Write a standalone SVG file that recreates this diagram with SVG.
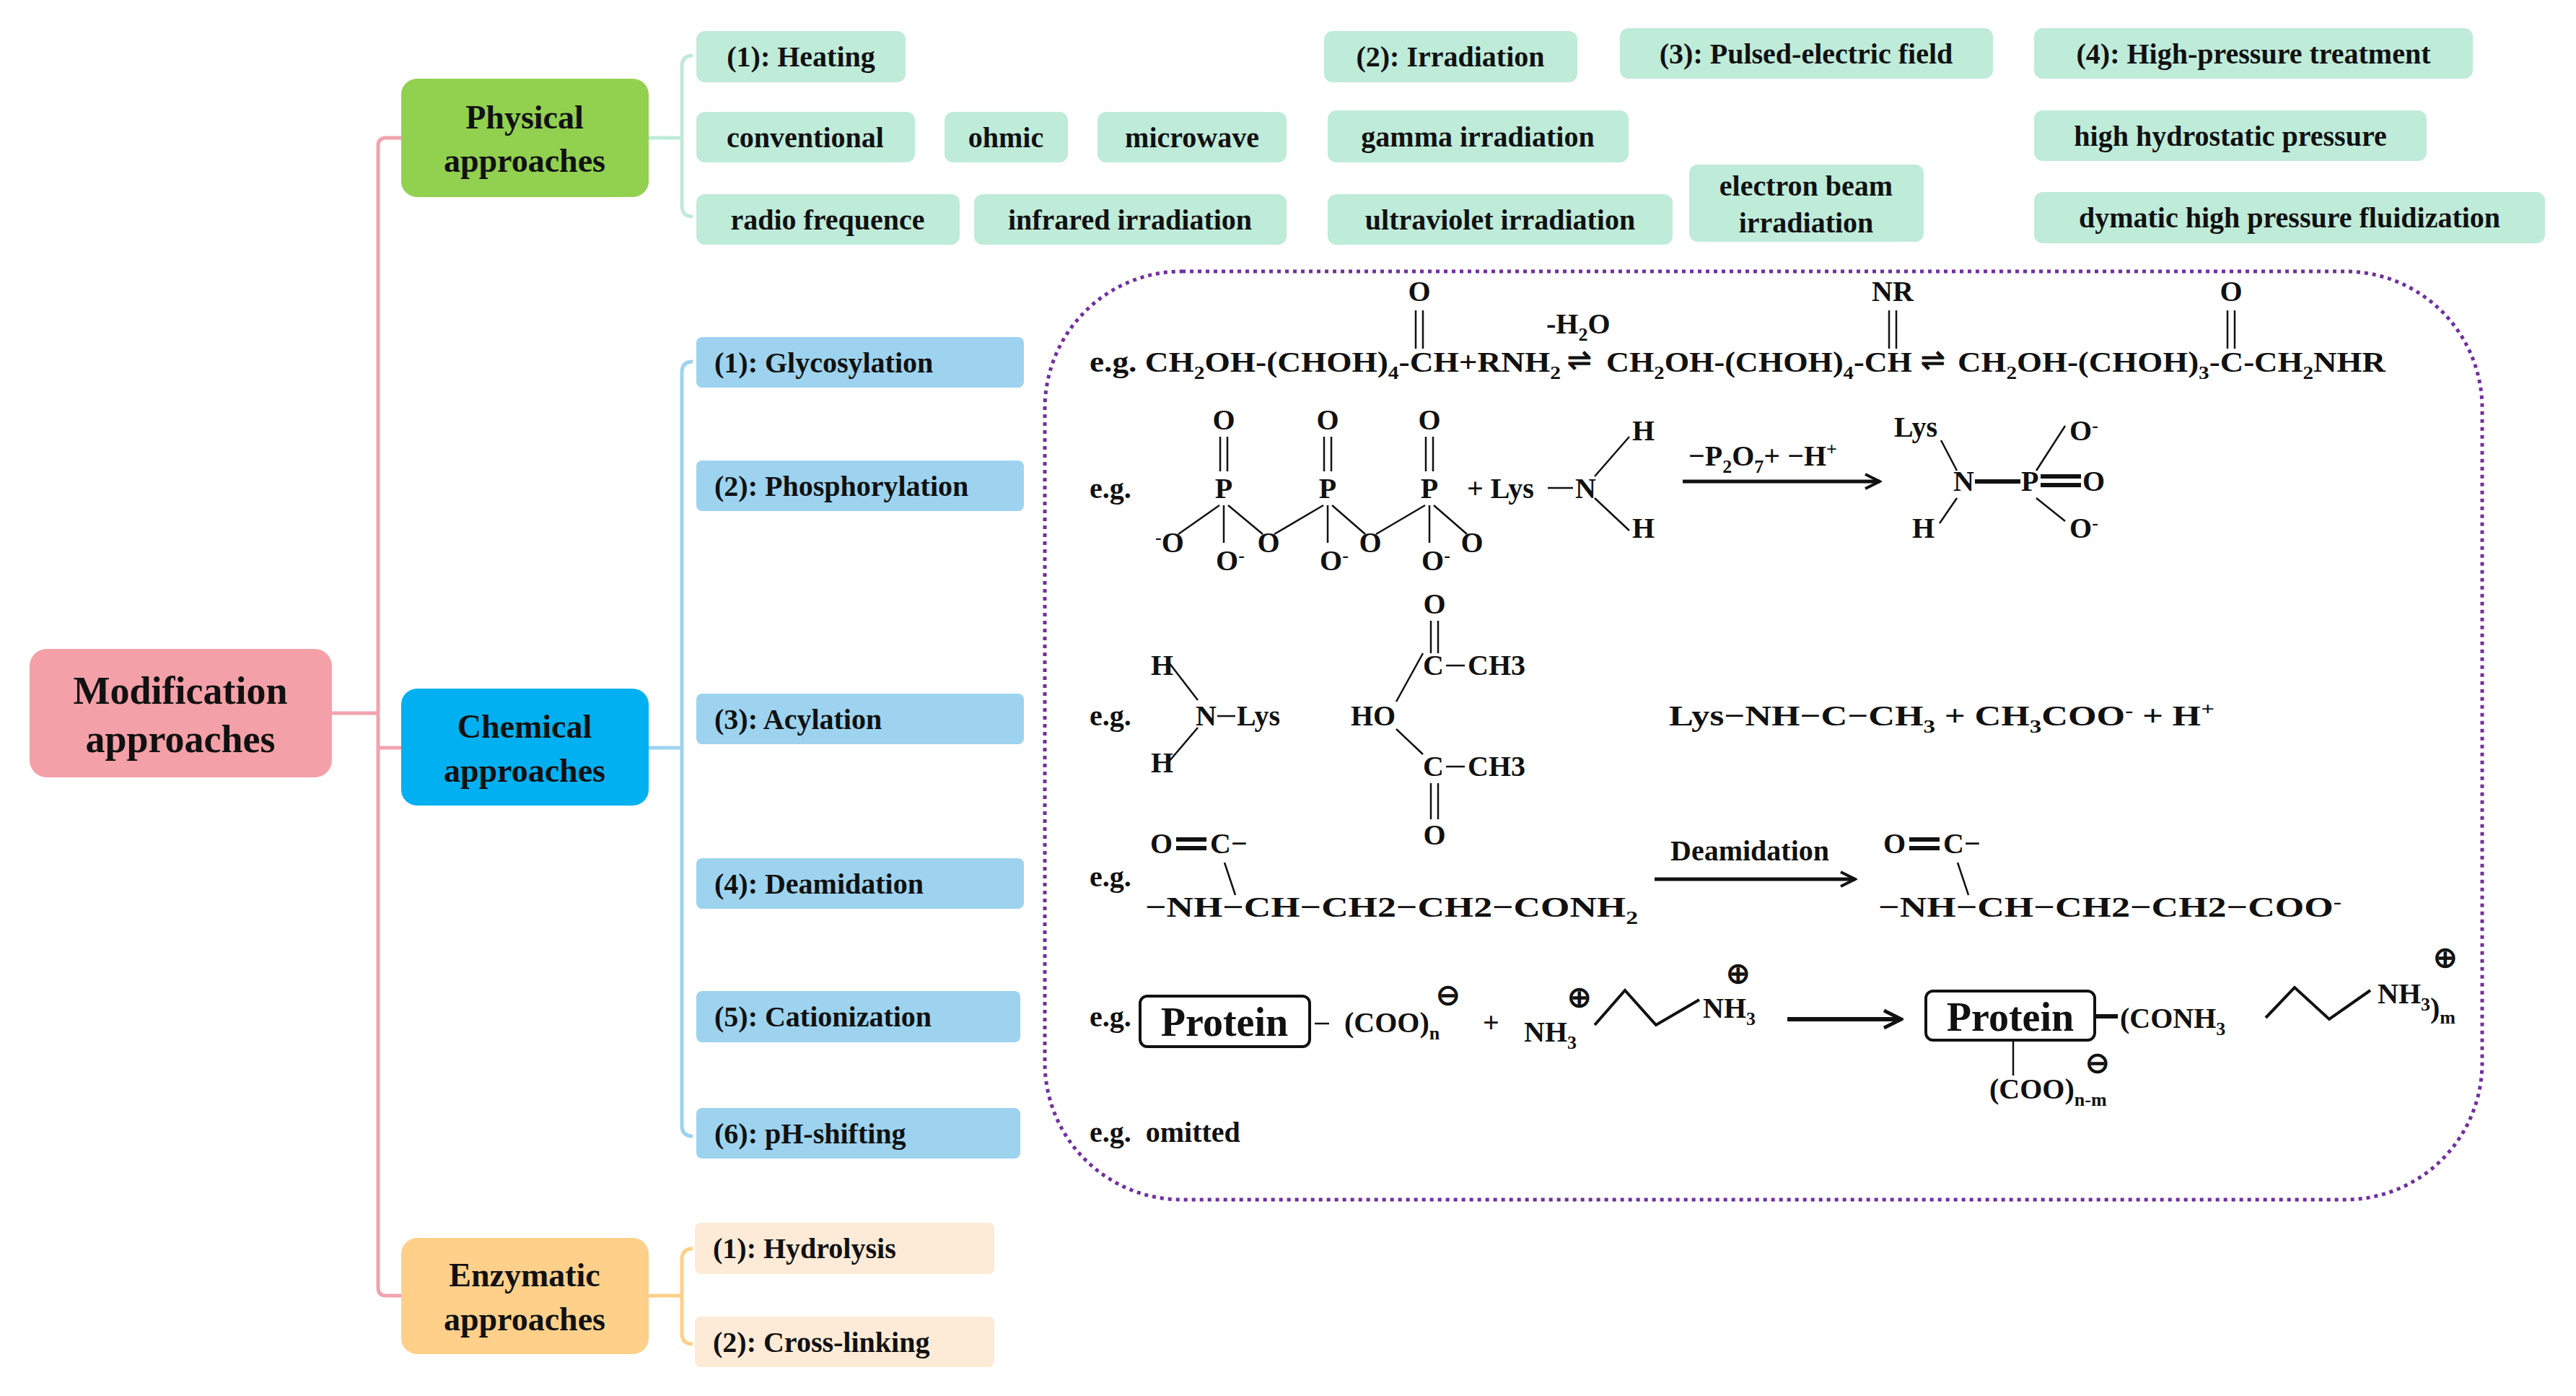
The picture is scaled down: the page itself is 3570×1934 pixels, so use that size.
<svg xmlns="http://www.w3.org/2000/svg" width="3570" height="1934" viewBox="0 0 3570 1934">
<style>
text{font-family:"Liberation Serif","Times New Roman",serif;font-weight:bold;fill:#111}
.c{text-anchor:middle}
.it{font-size:40px}
.mn{font-size:46px;text-anchor:middle}
.ch{font-size:40px}
.sb{font-size:26px}
.b{stroke:#111;stroke-width:4;fill:none}
.bt{stroke:#111;stroke-width:2.5;fill:none}
.phy{fill:#BFEBD9}
.chm{fill:#9DD3EE}
.enz{fill:#FDEBD7}
</style>
<defs>
<marker id="ah" viewBox="0 0 10 10" refX="9" refY="5" markerWidth="5" markerHeight="5" orient="auto" markerUnits="strokeWidth"><path d="M1,1 L9,5 L1,9" fill="none" stroke="#111" stroke-width="1.6"/></marker>
</defs>
<rect width="3570" height="1934" fill="#fff"/>
<g id="connectors" fill="none" stroke-width="5">
<path d="M460,988 H524 M556,191 H535 Q524,191 524,202 V1784 Q524,1795 535,1795 H556 M524,1036 H556" stroke="#F0A3AE"/>
<path d="M899,191 H945 M960,77 Q945,77 945,92 V285 Q945,300 960,300" stroke="#BFEBD9"/>
<path d="M899,1036 H945 M960,501 Q945,501 945,516 V1559 Q945,1574 960,1574" stroke="#9DD3EE"/>
<path d="M899,1795 H945 M960,1730 Q945,1730 945,1745 V1847 Q945,1862 960,1862" stroke="#FFD08A"/>
</g>
<g id="modification"><rect x="41" y="899" width="419" height="178" rx="24" fill="#F4A0A8"/><text class="c" font-size="54" x="250" y="975">Modification</text><text class="c" font-size="54" x="250" y="1042">approaches</text></g>
<g id="physical"><rect x="556" y="109" width="343" height="164" rx="22" fill="#92D050"/><text class="mn" x="727" y="178">Physical</text><text class="mn" x="727" y="238">approaches</text></g>
<g id="chemical"><rect x="556" y="954" width="343" height="162" rx="22" fill="#00B0F0"/><text class="mn" x="727" y="1022">Chemical</text><text class="mn" x="727" y="1083">approaches</text></g>
<g id="enzymatic"><rect x="556" y="1715" width="343" height="161" rx="22" fill="#FFD08A"/><text class="mn" x="727" y="1782">Enzymatic</text><text class="mn" x="727" y="1843">approaches</text></g>
<g id="p-heating"><rect class="phy" x="965" y="43" width="290" height="71" rx="12"/><text class="it c" x="1110" y="92">(1): Heating</text></g>
<g id="p-conventional"><rect class="phy" x="965" y="155" width="303" height="70" rx="12"/><text class="it c" x="1116" y="204">conventional</text></g>
<g id="p-ohmic"><rect class="phy" x="1309" y="155" width="171" height="70" rx="12"/><text class="it c" x="1394" y="204">ohmic</text></g>
<g id="p-microwave"><rect class="phy" x="1521" y="155" width="262" height="70" rx="12"/><text class="it c" x="1652" y="204">microwave</text></g>
<g id="p-radio"><rect class="phy" x="965" y="269" width="365" height="70" rx="12"/><text class="it c" x="1147" y="318">radio frequence</text></g>
<g id="p-infrared"><rect class="phy" x="1350" y="269" width="433" height="70" rx="12"/><text class="it c" x="1566" y="318">infrared irradiation</text></g>
<g id="p-irradiation"><rect class="phy" x="1835" y="43" width="351" height="71" rx="12"/><text class="it c" x="2010" y="92">(2): Irradiation</text></g>
<g id="p-gamma"><rect class="phy" x="1840" y="153" width="417" height="72" rx="12"/><text class="it c" x="2048" y="203">gamma irradiation</text></g>
<g id="p-ultraviolet"><rect class="phy" x="1840" y="269" width="478" height="70" rx="12"/><text class="it c" x="2079" y="318">ultraviolet irradiation</text></g>
<g id="p-electron"><rect class="phy" x="2341" y="228" width="325" height="107" rx="12"/><text class="it c" x="2503" y="271">electron beam</text><text class="it c" x="2503" y="322">irradiation</text></g>
<g id="p-pulsed"><rect class="phy" x="2245" y="39" width="517" height="70" rx="12"/><text class="it c" x="2503" y="88">(3): Pulsed-electric field</text></g>
<g id="p-highpressure"><rect class="phy" x="2819" y="39" width="608" height="70" rx="12"/><text class="it c" x="3123" y="88">(4): High-pressure treatment</text></g>
<g id="p-hydrostatic"><rect class="phy" x="2819" y="153" width="544" height="70" rx="12"/><text class="it c" x="3091" y="202">high hydrostatic pressure</text></g>
<g id="p-dymatic"><rect class="phy" x="2819" y="266" width="708" height="71" rx="12"/><text class="it c" x="3173" y="315">dymatic high pressure fluidization</text></g>
<g id="c-glyco"><rect class="chm" x="965" y="467" width="454" height="70" rx="8"/><text class="it" x="990" y="516">(1): Glycosylation</text></g>
<g id="c-phos"><rect class="chm" x="965" y="638" width="454" height="70" rx="8"/><text class="it" x="990" y="687">(2): Phosphorylation</text></g>
<g id="c-acyl"><rect class="chm" x="965" y="961" width="454" height="70" rx="8"/><text class="it" x="990" y="1010">(3): Acylation</text></g>
<g id="c-deam"><rect class="chm" x="965" y="1189" width="454" height="70" rx="8"/><text class="it" x="990" y="1238">(4): Deamidation</text></g>
<g id="c-cation"><rect class="chm" x="965" y="1373" width="449" height="71" rx="8"/><text class="it" x="990" y="1422">(5): Cationization</text></g>
<g id="c-ph"><rect class="chm" x="965" y="1535" width="449" height="70" rx="8"/><text class="it" x="990" y="1584">(6): pH-shifting</text></g>
<g id="e-hydro"><rect class="enz" x="963" y="1694" width="415" height="71" rx="8"/><text class="it" x="988" y="1743">(1): Hydrolysis</text></g>
<g id="e-cross"><rect class="enz" x="963" y="1824" width="415" height="70" rx="8"/><text class="it" x="988" y="1873">(2): Cross-linking</text></g>
<g id="reactions">
<rect x="1448" y="376" width="1992" height="1286" rx="190" fill="none" stroke="#7030A0" stroke-width="5" stroke-dasharray="5,6"/>
<text class="ch" x="1510" y="515" textLength="653" lengthAdjust="spacingAndGlyphs">e.g. CH<tspan class="sb" dy="10">2</tspan><tspan dy="-10">OH-(CHOH)</tspan><tspan class="sb" dy="10">4</tspan><tspan dy="-10">-CH+RNH</tspan><tspan class="sb" dy="10">2</tspan></text>
<text class="ch" x="2172" y="512">⇌</text>
<text class="ch" x="2226" y="515" textLength="424" lengthAdjust="spacingAndGlyphs">CH<tspan class="sb" dy="10">2</tspan><tspan dy="-10">OH-(CHOH)</tspan><tspan class="sb" dy="10">4</tspan><tspan dy="-10">-CH</tspan></text>
<text class="ch" x="2662" y="512">⇌</text>
<text class="ch" x="2713" y="515" textLength="593" lengthAdjust="spacingAndGlyphs">CH<tspan class="sb" dy="10">2</tspan><tspan dy="-10">OH-(CHOH)</tspan><tspan class="sb" dy="10">3</tspan><tspan dy="-10">-C-CH</tspan><tspan class="sb" dy="10">2</tspan><tspan dy="-10">NHR</tspan></text>
<text class="ch c" x="1967" y="417">O</text><path class="bt" d="M1962,430 V483 M1972,430 V483"/>
<text class="ch c" x="2623" y="417">NR</text><path class="bt" d="M2618,430 V483 M2628,430 V483"/>
<text class="ch c" x="3092" y="417">O</text><path class="bt" d="M3087,430 V483 M3097,430 V483"/>
<text class="ch" x="2143" y="462">-H<tspan class="sb" dy="10">2</tspan><tspan dy="-10">O</tspan></text>
<text class="ch" x="1510" y="690">e.g.</text>
<text class="ch c" x="1696" y="690">P</text><text class="ch c" x="1840" y="690">P</text><text class="ch c" x="1981" y="690">P</text>
<text class="ch c" x="1696" y="595">O</text><text class="ch c" x="1840" y="595">O</text><text class="ch c" x="1981" y="595">O</text>
<path class="bt" d="M1691,605 V653 M1701,605 V653 M1835,605 V653 M1845,605 V653 M1976,605 V653 M1986,605 V653"/>
<path class="bt" d="M1696,700 V752 M1840,700 V752 M1981,700 V752 M1690,700 L1633,740 M1702,700 L1750,740 M1834,700 L1766,740 M1846,700 L1892,740 M1975,700 L1907,740 M1987,700 L2033,740"/>
<text class="ch c" x="1621" y="765"><tspan class="sb" dy="-12">-</tspan><tspan dy="12">O</tspan></text>
<text class="ch c" x="1758" y="765">O</text><text class="ch c" x="1899" y="765">O</text><text class="ch c" x="2040" y="765">O</text>
<text class="ch" x="1685" y="790">O<tspan class="sb" dy="-12">-</tspan></text>
<text class="ch" x="1829" y="790">O<tspan class="sb" dy="-12">-</tspan></text>
<text class="ch" x="1970" y="790">O<tspan class="sb" dy="-12">-</tspan></text>
<text class="ch" x="2033" y="690">+ Lys</text><path class="bt" d="M2145,676 H2180"/><text class="ch" x="2183" y="690">N</text>
<text class="ch" x="2262" y="610">H</text><text class="ch" x="2262" y="745">H</text>
<path class="bt" d="M2210,660 L2258,605 M2210,690 L2258,735"/>
<path d="M2332,667 H2605" stroke="#111" stroke-width="5" marker-end="url(#ah)"/>
<text class="ch" x="2340" y="645">−P<tspan class="sb" dy="10">2</tspan><tspan dy="-10">O</tspan><tspan class="sb" dy="10">7</tspan><tspan dy="-10">+ −H</tspan><tspan class="sb" dy="-14">+</tspan></text>
<text class="ch" x="2625" y="605">Lys</text><text class="ch" x="2707" y="680">N</text><text class="ch" x="2650" y="745">H</text>
<text class="ch" x="2801" y="680">P</text>
<text class="ch" x="2868" y="610">O<tspan class="sb" dy="-12">-</tspan></text><text class="ch" x="2868" y="745">O<tspan class="sb" dy="-12">-</tspan></text>
<text class="ch" x="2886" y="680">O</text>
<path class="bt" d="M2690,610 L2712,652 M2712,690 L2688,725 M2822,652 L2862,590 M2822,690 L2862,722"/>
<path d="M2737,667 H2800 M2828,660 H2884 M2828,672 H2884" stroke="#111" stroke-width="6"/>
<text class="ch" x="1510" y="1005">e.g.</text>
<text class="ch" x="1595" y="935">H</text><text class="ch" x="1595" y="1070">H</text>
<text class="ch" x="1657" y="1005">N</text><path class="bt" d="M1687,992 H1712"/><text class="ch" x="1714" y="1005">Lys</text>
<path class="bt" d="M1620,918 L1660,970 M1660,1008 L1620,1055"/>
<text class="ch" x="1872" y="1005">HO</text>
<text class="ch" x="1972" y="935">C</text><path class="bt" d="M2004,922 H2030"/><text class="ch" x="2034" y="935">CH3</text>
<text class="ch" x="1972" y="1075">C</text><path class="bt" d="M2004,1062 H2030"/><text class="ch" x="2034" y="1075">CH3</text>
<text class="ch c" x="1988" y="850">O</text><path class="bt" d="M1983,860 V905 M1993,860 V905"/>
<text class="ch c" x="1988" y="1170">O</text><path class="bt" d="M1983,1085 V1135 M1993,1085 V1135"/>
<path class="bt" d="M1935,972 L1972,905 M1935,1010 L1972,1045"/>
<text class="ch" x="2313" y="1005" textLength="756" lengthAdjust="spacingAndGlyphs">Lys−NH−C−CH<tspan class="sb" dy="10">3</tspan><tspan dy="-10"> + CH</tspan><tspan class="sb" dy="10">3</tspan><tspan dy="-10">COO</tspan><tspan class="sb" dy="-12">-</tspan><tspan dy="12">  + H</tspan><tspan class="sb" dy="-14">+</tspan></text>
<text class="ch" x="1510" y="1228">e.g.</text>
<text class="ch" x="1594" y="1182">O</text><path d="M1630,1163 H1672 M1630,1175 H1672" stroke="#111" stroke-width="6"/><text class="ch" x="1677" y="1182">C−</text>
<path class="bt" d="M1697,1195 L1712,1240"/>
<text class="ch" x="1587" y="1270" textLength="683" lengthAdjust="spacingAndGlyphs">−NH−CH−CH2−CH2−CONH<tspan class="sb" dy="10">2</tspan></text>
<path d="M2293,1218 H2571" stroke="#111" stroke-width="5" marker-end="url(#ah)"/>
<text class="ch c" x="2425" y="1192">Deamidation</text>
<text class="ch" x="2610" y="1182">O</text><path d="M2646,1163 H2688 M2646,1175 H2688" stroke="#111" stroke-width="6"/><text class="ch" x="2693" y="1182">C−</text>
<path class="bt" d="M2713,1195 L2728,1240"/>
<text class="ch" x="2603" y="1270" textLength="642" lengthAdjust="spacingAndGlyphs">−NH−CH−CH2−CH2−COO<tspan class="sb" dy="-12">-</tspan></text>
<text class="ch" x="1510" y="1422">e.g.</text>
<rect class="b" x="1580" y="1380" width="235" height="70" rx="10"/><text class="c" font-size="56" x="1697" y="1435">Protein</text>
<path class="bt" d="M1822,1418 H1842"/>
<text class="ch" x="1863" y="1430" font-weight="normal">(COO)<tspan class="sb" dy="10">n</tspan></text>
<text class="ch" x="1990" y="1392" font-weight="normal">⊖</text>
<text class="ch" x="2055" y="1430">+</text>
<text class="ch" x="2112" y="1443">NH<tspan class="sb" dy="10">3</tspan></text>
<text class="ch" x="2172" y="1395" font-weight="normal">⊕</text>
<path class="b" d="M2210,1420 L2252,1372 L2295,1420 L2355,1385"/>
<text class="ch" x="2360" y="1410">NH<tspan class="sb" dy="10">3</tspan></text>
<text class="ch" x="2392" y="1362" font-weight="normal">⊕</text>
<path d="M2477,1412 H2635" stroke="#111" stroke-width="6" marker-end="url(#ah)"/>
<rect class="b" x="2669" y="1373" width="234" height="68" rx="10"/><text class="c" font-size="56" x="2786" y="1428">Protein</text>
<path d="M2905,1408 H2935" stroke="#111" stroke-width="6"/>
<text class="ch" x="2938" y="1424">(CONH<tspan class="sb" dy="10">3</tspan></text>
<path class="b" d="M3140,1410 L3180,1368 L3228,1412 L3285,1372"/>
<text class="ch" x="3295" y="1390">NH<tspan class="sb" dy="10">3</tspan><tspan dy="10">)</tspan><tspan class="sb" dy="8">m</tspan></text>
<text class="ch" x="3372" y="1340" font-weight="normal">⊕</text>
<path class="bt" d="M2790,1441 V1490"/>
<text class="ch" x="2757" y="1522">(COO)<tspan class="sb" dy="10">n-m</tspan></text>
<text class="ch" x="2890" y="1486" font-weight="normal">⊖</text>
<text class="ch" x="1510" y="1582" xml:space="preserve">e.g.  omitted</text>
</g>
</svg>
